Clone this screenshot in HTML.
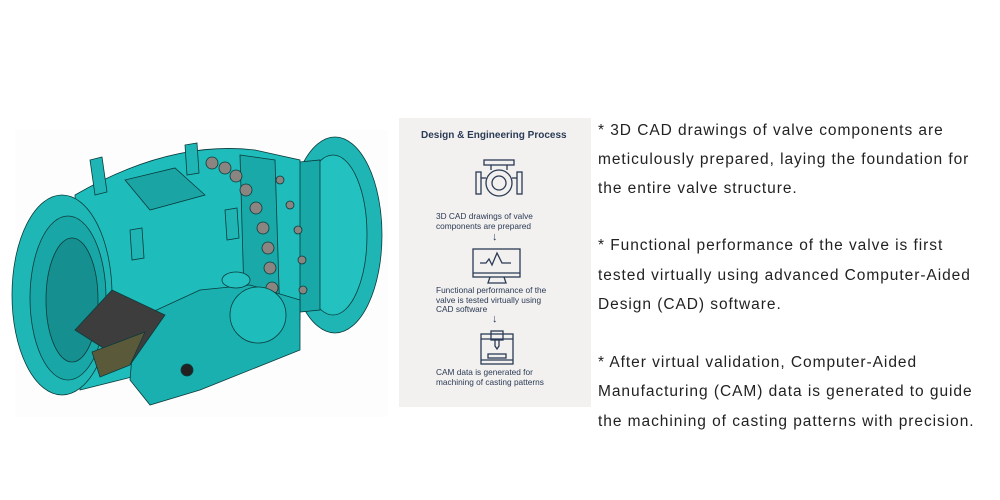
<!DOCTYPE html>
<html><head><meta charset="utf-8"><style>
body{margin:0;width:1000px;height:500px;background:#fff;position:relative;overflow:hidden;font-family:"Liberation Sans",sans-serif}
.t{position:absolute;left:598px;font-size:15.5px;letter-spacing:0.95px;color:#222;white-space:nowrap;line-height:18px}
.panel{position:absolute;left:399px;top:118px;width:192px;height:289px;background:#f2f1ef}
.p{position:absolute;font-size:8.3px;color:#2b3a55;line-height:9.5px;white-space:nowrap}
</style></head><body>
<div style="position:absolute;left:15px;top:130px;width:373px;height:287px;background:#fdfdfd"></div>
<svg style="position:absolute;left:0;top:120px" width="400" height="300" viewBox="0 0 400 300">
<g stroke="#0b3b3b" stroke-width="0.8">
<ellipse cx="335" cy="115" rx="47" ry="98" fill="#1fb5b5"/>
<ellipse cx="333" cy="115" rx="34" ry="80" fill="#23c2c0"/>
<path d="M270 45 L320 40 L320 190 L270 195 Z" fill="#19a8a8"/>
<path d="M75 75 Q170 20 255 30 L300 40 L300 200 Q250 230 160 250 L80 270 Z" fill="#1ebcbb"/>
<path d="M240 35 L275 40 L280 200 L245 210 Z" fill="#1aa9a9"/>
<g fill="#8a8580">
<circle cx="212" cy="43" r="6"/><circle cx="225" cy="48" r="6"/><circle cx="236" cy="56" r="6"/>
<circle cx="246" cy="70" r="6"/><circle cx="256" cy="88" r="6"/><circle cx="263" cy="108" r="6"/>
<circle cx="268" cy="128" r="6"/><circle cx="270" cy="148" r="6"/><circle cx="272" cy="168" r="6"/>
<circle cx="280" cy="60" r="4"/><circle cx="290" cy="85" r="4"/><circle cx="298" cy="110" r="4"/><circle cx="302" cy="140" r="4"/><circle cx="303" cy="170" r="4"/>
</g>
<path d="M125 60 L175 48 L205 75 L150 90 Z" fill="#1aa4a4"/>
<ellipse cx="62" cy="175" rx="50" ry="100" fill="#1fb7b6"/>
<ellipse cx="68" cy="178" rx="38" ry="82" fill="#19a6a6"/>
<ellipse cx="72" cy="180" rx="26" ry="62" fill="#158f90"/>
<path d="M90 40 l12 -3 l5 35 l-12 3z" fill="#1fb5b5"/>
<path d="M185 25 l12 -2 l2 30 l-12 2z" fill="#1fb5b5"/>
<path d="M130 110 l12 -2 l2 30 l-12 2z" fill="#1fb5b5"/>
<path d="M225 90 l12 -2 l2 30 l-12 2z" fill="#1fb5b5"/>
<path d="M135 200 L200 170 L250 165 L300 180 L300 230 L200 270 L150 285 L130 260 Z" fill="#1ab0b0"/>
<circle cx="258" cy="195" r="28" fill="#1ebcbb"/>
<ellipse cx="236" cy="160" rx="14" ry="8" fill="#23c2c0"/>
<path d="M75 210 L112 170 L165 195 L130 245 Z" fill="#3d3d3d"/>
<path d="M92 232 L145 212 L130 245 L100 257 Z" fill="#5a5a3a"/>
<circle cx="187" cy="250" r="6" fill="#222"/>
</g>
</svg>
<div class="panel">
<div class="p" style="left:22px;top:13px;font-size:10px;font-weight:bold;color:#2b3a55">Design &amp; Engineering Process</div>
<svg style="position:absolute;left:75px;top:40px" width="50" height="45" viewBox="0 0 50 45" fill="none" stroke="#2b3a55" stroke-width="1.3">
<rect x="10" y="2" width="30" height="5"/><line x1="17" y1="7" x2="17" y2="12"/><line x1="33" y1="7" x2="33" y2="12"/>
<rect x="2" y="14" width="5" height="22"/><rect x="43" y="14" width="5" height="22"/><line x1="7" y1="20" x2="12" y2="20"/><line x1="38" y1="20" x2="43" y2="20"/>
<circle cx="25" cy="25" r="13"/><circle cx="25" cy="25" r="7"/>
</svg>
<div class="p" style="left:37px;top:94px">3D CAD drawings of valve<br>components are prepared</div>
<div class="p" style="left:93px;top:115px;font-size:11px">↓</div>
<svg style="position:absolute;left:73px;top:130px" width="50" height="40" viewBox="0 0 50 40" fill="none" stroke="#2b3a55" stroke-width="1.3">
<rect x="1" y="1" width="47" height="28"/><line x1="1" y1="25" x2="48" y2="25"/><path d="M18 29 l-2 6 h18 l-2 -6"/>
<path d="M8 15 h6 l3 -4 l3 6 l5 -12 l5 10 h9"/>
</svg>
<div class="p" style="left:37px;top:168px">Functional performance of the<br>valve is tested virtually using<br>CAD software</div>
<div class="p" style="left:93px;top:197px;font-size:11px">↓</div>
<svg style="position:absolute;left:80px;top:212px" width="36" height="38" viewBox="0 0 36 38" fill="none" stroke="#2b3a55" stroke-width="1.3">
<rect x="2" y="4" width="32" height="30"/><rect x="12" y="1" width="12" height="9"/><line x1="2" y1="9" x2="34" y2="9"/>
<path d="M16 10 v6 l2 3 l2 -3 v-6"/><rect x="9" y="24" width="18" height="4"/><line x1="2" y1="30" x2="34" y2="30"/>
</svg>
<div class="p" style="left:37px;top:250px">CAM data is generated for<br>machining of casting patterns</div>
</div>
<div class="t" style="top:122px">* 3D CAD drawings of valve components are</div>
<div class="t" style="top:151px">meticulously prepared, laying the foundation for</div>
<div class="t" style="top:180px">the entire valve structure.</div>
<div class="t" style="top:237px">* Functional performance of the valve is first</div>
<div class="t" style="top:267px">tested virtually using advanced Computer-Aided</div>
<div class="t" style="top:296px">Design (CAD) software.</div>
<div class="t" style="top:354px">* After virtual validation, Computer-Aided</div>
<div class="t" style="top:383px">Manufacturing (CAM) data is generated to guide</div>
<div class="t" style="top:413px">the machining of casting patterns with precision.</div>
</body></html>
